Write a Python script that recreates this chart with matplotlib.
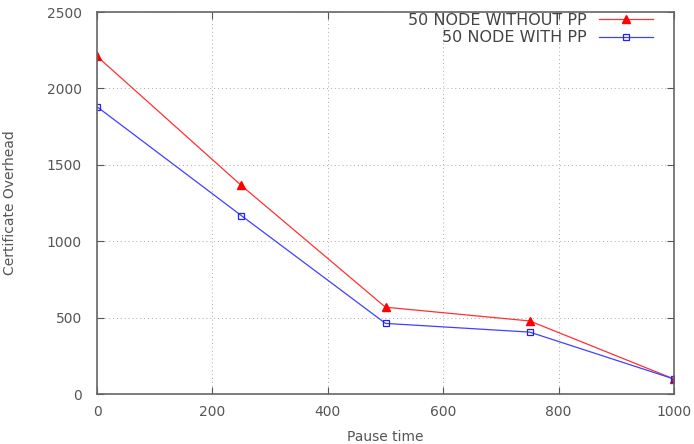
import matplotlib
matplotlib.use("Agg")
import matplotlib.pyplot as plt

pause_time = [0, 250, 500, 750, 1000]
without_pp = [2210, 1365, 568, 478, 98]
with_pp = [1880, 1168, 462, 405, 98]

plt.rcParams['font.family'] = ['DejaVu Sans']
plt.rcParams['font.size'] = 10

fig = plt.figure(figsize=(6.94, 4.44), dpi=100)
ax = fig.add_axes([97/694, 50/444, 577/694, 382/444])

ax.plot(pause_time, without_pp, color='#ff3030', lw=0.9, marker='^',
        markersize=6, markerfacecolor='red', markeredgecolor='red',
        label='50 NODE WITHOUT PP')
ax.plot(pause_time, with_pp, color='#4040ff', lw=0.9, marker='s',
        markersize=5, markerfacecolor='none', markeredgecolor='#2020ff',
        markeredgewidth=0.9, label='50 NODE WITH PP')

ax.set_xlim(0, 1000)
ax.set_ylim(0, 2500)
ax.set_xticks(range(0, 1001, 200))
ax.set_yticks(range(0, 2501, 500))
ax.grid(True, linestyle=(0, (1, 3)), color='#aaaaaa', lw=0.7)
ax.tick_params(direction='in', length=5, top=True, right=True,
               color='#555555', labelcolor='#555555')
ax.tick_params(axis='x', pad=8)
ax.tick_params(axis='y', pad=11)
for s in ax.spines.values():
    s.set_color('#666666')
    s.set_linewidth(1.2)

ax.set_xlabel('Pause time', color='#555555', labelpad=8)
ax.set_ylabel('Certificate Overhead', color='#555555', labelpad=21)

leg = ax.legend(loc='upper right', frameon=False, markerfirst=False,
                fontsize=11.5, handlelength=3.4, borderaxespad=0, borderpad=0,
                bbox_to_anchor=(1 - 21/577, 1 - 1/382),
                labelspacing=0.15, handletextpad=0.75)
for t in leg.get_texts():
    t.set_color('#444444')

fig.savefig('out.png', dpi=100)
